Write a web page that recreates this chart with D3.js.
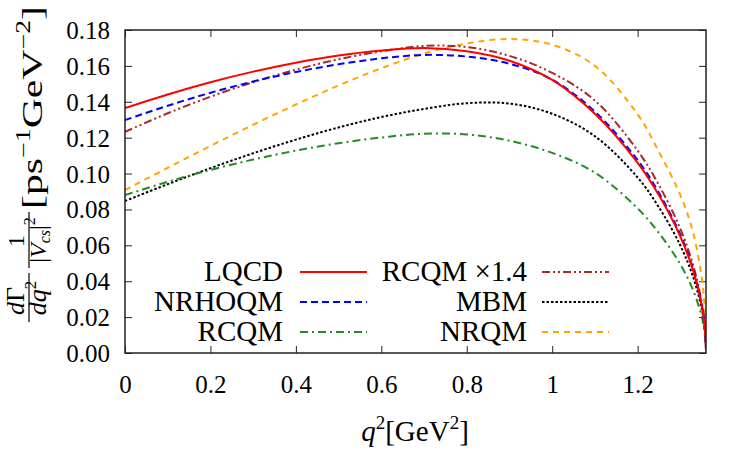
<!DOCTYPE html>
<html>
<head>
<meta charset="utf-8">
<script src="https://cdn.jsdelivr.net/npm/d3@7"></script>
<style>
body { margin: 0; background: #fff; }
text { font-family: "Liberation Serif", "DejaVu Serif", serif; font-weight: normal; fill: #000; }
</style>
</head>
<body>
<svg id="chart" width="750" height="450"></svg>
<script>
// q^2 sample points [GeV^2] and differential rates
var q2      = [0, 0.1, 0.2, 0.3, 0.4, 0.5, 0.6, 0.7, 0.8, 0.9, 1.0, 1.1, 1.2, 1.25, 1.3, 1.33, 1.35, 1.357, 1.36];
var lqcd    = [0.1365, 0.1441, 0.1509, 0.1568, 0.1618, 0.1658, 0.1686, 0.1700, 0.1682, 0.1629, 0.1522, 0.1333, 0.1060, 0.0879, 0.0649, 0.0459, 0.0265, 0.0145, 0.0020];
var nrhoqm  = [0.1298, 0.1378, 0.1450, 0.1513, 0.1566, 0.1609, 0.1642, 0.1661, 0.1652, 0.1612, 0.1523, 0.1345, 0.1075, 0.0892, 0.0659, 0.0466, 0.0269, 0.0147, 0.0020];
var rcqm    = [0.0880, 0.0954, 0.1020, 0.1078, 0.1128, 0.1169, 0.1201, 0.1222, 0.1218, 0.1183, 0.1115, 0.1005, 0.0806, 0.0668, 0.0494, 0.0349, 0.0202, 0.0110, 0.0015];
var rcqm14  = [0.1232, 0.1336, 0.1428, 0.1509, 0.1579, 0.1637, 0.1681, 0.1711, 0.1705, 0.1656, 0.1561, 0.1407, 0.1128, 0.0935, 0.0692, 0.0489, 0.0283, 0.0154, 0.0021];
var mbm     = [0.0847, 0.0941, 0.1030, 0.1113, 0.1189, 0.1257, 0.1315, 0.1360, 0.1392, 0.1390, 0.1333, 0.1208, 0.0978, 0.0811, 0.0599, 0.0423, 0.0245, 0.0134, 0.0020];
var nrqm    = [0.0908, 0.1032, 0.1154, 0.1272, 0.1385, 0.1491, 0.1587, 0.1669, 0.1725, 0.1750, 0.1718, 0.1600, 0.1330, 0.1120, 0.0880, 0.0670, 0.0420, 0.0250, 0.0040];

var xTicks = [0, 0.2, 0.4, 0.6, 0.8, 1, 1.2];
var yTicks = [0, 0.02, 0.04, 0.06, 0.08, 0.10, 0.12, 0.14, 0.16, 0.18];

var series = [
  {name: "LQCD",           values: lqcd,   color: "#ff0000", dash: null,          col: 0, row: 0},
  {name: "NRHOQM",         values: nrhoqm, color: "#0000ff", dash: "7,4",         col: 0, row: 1},
  {name: "RCQM",           values: rcqm,   color: "#228b22", dash: "8,4,2,4",     col: 0, row: 2},
  {name: "RCQM \u00d71.4", values: rcqm14, color: "#a52a2a", dash: "8,3,2,3,2,3", col: 1, row: 0},
  {name: "MBM",            values: mbm,    color: "#000000", dash: "2.5,2",       col: 1, row: 1},
  {name: "NRQM",           values: nrqm,   color: "#ffa500", dash: "6,5",         col: 1, row: 2}
];

var margin = {top: 30, right: 44, bottom: 97, left: 125},
    width  = 750 - margin.left - margin.right,
    height = 450 - margin.top - margin.bottom;

var svg = d3.select("#chart");
var g = svg.append("g")
    .attr("transform", "translate(" + margin.left + "," + margin.top + ")");

var x = d3.scaleLinear().domain([0, 1.36]).range([0, width]);
var y = d3.scaleLinear().domain([0, 0.18]).range([height, 0]);

g.append("clipPath").attr("id", "clip")
  .append("rect").attr("width", width).attr("height", height);

// axes, ticks pointing inward on all four sides
var fmtX = function(d) { return String(d); };
var xb = g.append("g").attr("transform", "translate(0," + height + ")")
  .call(d3.axisBottom(x).tickValues(xTicks).tickFormat(fmtX).tickSizeInner(-7).tickSizeOuter(0).tickPadding(22));
var xt = g.append("g")
  .call(d3.axisTop(x).tickValues(xTicks).tickFormat("").tickSizeInner(-7).tickSizeOuter(0));
var yl = g.append("g")
  .call(d3.axisLeft(y).tickValues(yTicks).tickFormat(d3.format(".2f")).tickSizeInner(-7).tickSizeOuter(0).tickPadding(15));
var yr = g.append("g").attr("transform", "translate(" + width + ",0)")
  .call(d3.axisRight(y).tickValues(yTicks).tickFormat("").tickSizeInner(-7).tickSizeOuter(0));

[xb, xt, yl, yr].forEach(function(a) {
  a.attr("font-family", null);
  a.select(".domain").remove();
  a.selectAll(".tick line").attr("stroke", "#222").attr("stroke-width", 1);
  a.selectAll(".tick text").attr("font-size", 25).attr("fill", "#000");
});
yl.selectAll(".tick text").attr("dy", "0.34em");

// curves
var line = d3.line()
  .x(function(d, i) { return x(q2[i]); })
  .y(function(d) { return y(d); })
  .curve(d3.curveCatmullRom.alpha(0.5));

g.append("g").attr("clip-path", "url(#clip)")
  .selectAll("path")
  .data(series.slice().reverse())
  .join("path")
    .attr("fill", "none")
    .attr("stroke", function(d) { return d.color; })
    .attr("stroke-width", 2)
    .attr("stroke-dasharray", function(d) { return d.dash; })
    .attr("d", function(d) { return line(d.values); });

// frame
g.append("rect")
  .attr("width", width).attr("height", height)
  .attr("fill", "none").attr("stroke", "#222").attr("stroke-width", 1.5);

// legend
var legCols = [{textRight: 283 - margin.left, lineX0: 300 - margin.left, lineX1: 367 - margin.left},
               {textRight: 527 - margin.left, lineX0: 542 - margin.left, lineX1: 609 - margin.left}];
var legRows = [272, 302, 332].map(function(v) { return v - margin.top; });

var leg = g.append("g").selectAll("g").data(series).join("g");
leg.append("text")
  .attr("x", function(d) { return legCols[d.col].textRight; })
  .attr("y", function(d) { return legRows[d.row] + 9; })
  .attr("text-anchor", "end")
  .attr("font-size", 29)
  .text(function(d) { return d.name; });
leg.append("line")
  .attr("x1", function(d) { return legCols[d.col].lineX0; })
  .attr("x2", function(d) { return legCols[d.col].lineX1; })
  .attr("y1", function(d) { return legRows[d.row]; })
  .attr("y2", function(d) { return legRows[d.row]; })
  .attr("stroke", function(d) { return d.color; })
  .attr("stroke-width", 2)
  .attr("stroke-dasharray", function(d) { return d.dash; });

// x label: q^2 [GeV^2]
var xlab = svg.append("text")
  .attr("x", 415).attr("y", 441)
  .attr("text-anchor", "middle")
  .attr("font-size", 29);
xlab.append("tspan").attr("font-style", "italic").text("q");
xlab.append("tspan").attr("font-size", 19).attr("dy", -12).text("2");
xlab.append("tspan").attr("dy", 12).text("[GeV");
xlab.append("tspan").attr("font-size", 19).attr("dy", -12).text("2");
xlab.append("tspan").attr("dy", 12).text("]");

// y label, rotated: dGamma/dq^2 1/|V_cs|^2 [ps^-1 GeV^-2]
var ylab = svg.append("g").attr("transform", "rotate(-90)");

var n1 = ylab.append("text").attr("x", -301).attr("y", 24).attr("text-anchor", "middle").attr("font-size", 26);
n1.append("tspan").attr("font-style", "italic").text("d");
n1.append("tspan").text("\u0393");
ylab.append("line").attr("x1", -322).attr("x2", -273).attr("y1", 29).attr("y2", 29)
  .attr("stroke", "#000").attr("stroke-width", 1.2);
var d1 = ylab.append("text").attr("x", -298).attr("y", 46).attr("text-anchor", "middle").attr("font-size", 26);
d1.append("tspan").attr("font-style", "italic").text("dq");
d1.append("tspan").attr("font-size", 17).attr("dy", -10).text("2");

ylab.append("text").attr("x", -241).attr("y", 24).attr("text-anchor", "middle").attr("font-size", 24).text("1");
ylab.append("line").attr("x1", -268).attr("x2", -212).attr("y1", 29).attr("y2", 29)
  .attr("stroke", "#000").attr("stroke-width", 1.2);
var d2 = ylab.append("text").attr("x", -240).attr("y", 46).attr("text-anchor", "middle").attr("font-size", 24);
d2.append("tspan").text("|");
d2.append("tspan").attr("font-style", "italic").text("V");
d2.append("tspan").attr("font-style", "italic").attr("font-size", 16).attr("dy", 4).text("cs");
d2.append("tspan").attr("dy", -4).text("|");
d2.append("tspan").attr("font-size", 16).attr("dy", -11).text("2");

var br = ylab.append("text").attr("x", -209).attr("y", 42).attr("font-size", 30)
  .attr("textLength", 203).attr("lengthAdjust", "spacingAndGlyphs");
br.append("tspan").text("[ps");
br.append("tspan").attr("font-size", 20).attr("dy", -12).text("\u22121");
br.append("tspan").attr("dy", 12).text("GeV");
br.append("tspan").attr("font-size", 20).attr("dy", -12).text("\u22122");
br.append("tspan").attr("dy", 12).text("]");
</script>
</body>
</html>
